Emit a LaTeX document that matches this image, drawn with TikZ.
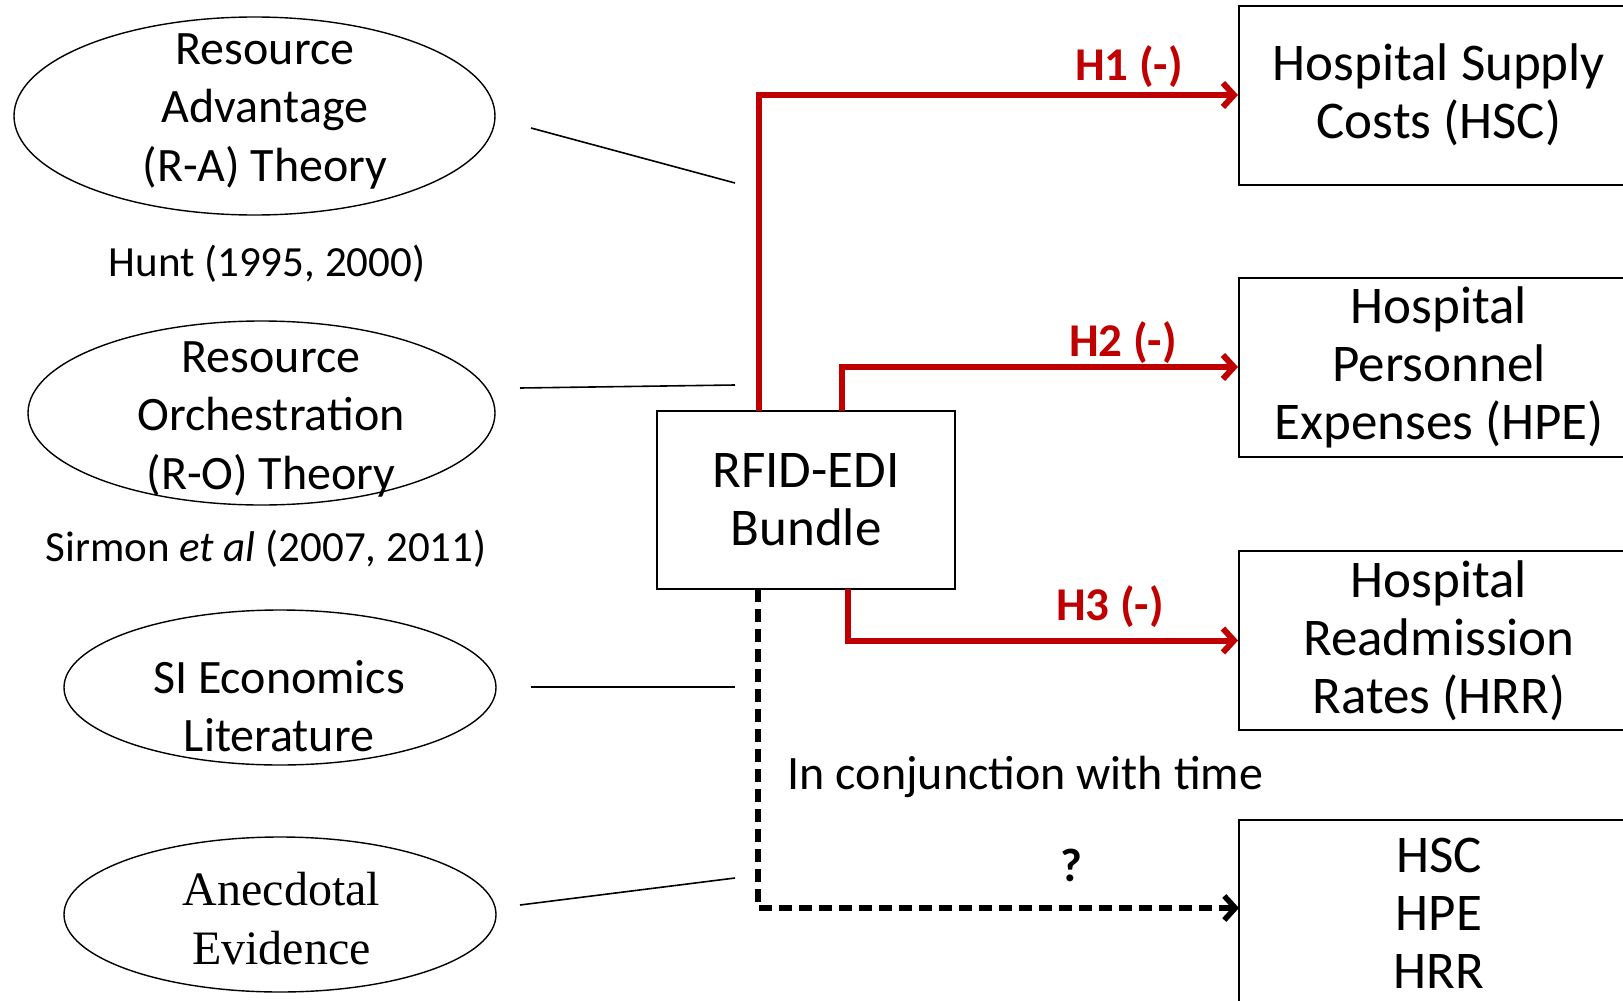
\documentclass[tikz,border=0pt]{standalone}
\usepackage{fontspec}
\setmainfont{Carlito}
\newfontfamily\timesfont{Liberation Serif}
\usetikzlibrary{shapes.geometric,arrows.meta}
\definecolor{hred}{RGB}{192,0,0}
\begin{document}
\begin{tikzpicture}[x=1pt,y=-1pt,
  theory/.style={ellipse, draw, line width=1.4pt, inner sep=0pt},
  theorytext/.style={font=\fontsize{48}{58.5}\selectfont, align=center, inner sep=0pt},
  reftext/.style={font=\fontsize{43}{50}\selectfont, inner sep=0pt},
  outcome/.style={rectangle, draw, line width=2pt, minimum width=400pt, minimum height=179pt, inner sep=0pt,
    font=\fontsize{53}{58}\selectfont, align=center},
  hyp/.style={font=\bfseries\fontsize{47}{52}\selectfont, text=hred, inner sep=0pt},
  link/.style={line width=1.6pt},
  redarrow/.style={draw=hred, line width=6pt, -{Straight Barb[length=11pt,width=24pt]}},
  timearrow/.style={line width=5.5pt, dash pattern=on 13pt off 7pt, -{Straight Barb[length=11pt,width=24pt]}}
]
\clip (0,0) rectangle (1623,1001);
\useasboundingbox (0,0) rectangle (1623,1001);

% theory ellipses
\node[theory, minimum width=481pt, minimum height=198pt] (ra) at (254.5,116) {};
\node[theorytext] (ratext) at (265,111) {Resource\\Advantage\\(R-A) Theory};
\node[reftext] (hunt) at (267,264) {Hunt (1995, 2000)};

\node[theory, minimum width=467pt, minimum height=184pt] (ro) at (261.5,413) {};
\node[theorytext] (rotext) at (271,419) {Resource\\Orchestration\\(R-O) Theory};
\node[reftext] (sirmon) at (266,549) {Sirmon \textit{et al} (2007, 2011)};

\node[theory, minimum width=432pt, minimum height=155pt] (si) at (280,687.5) {};
\node[theorytext] (sitext) at (279,706) {SI Economics\\Literature};

\node[theory, minimum width=432pt, minimum height=155pt] (ae) at (280,914.5) {};
\node[theorytext, font=\timesfont\fontsize{48}{59}\selectfont] (aetext) at (281.5,919) {Anecdotal\\Evidence};

% free ends of the support lines
\coordinate (l1a) at (531,128);  \coordinate (l1b) at (735,183);
\coordinate (l2a) at (520,388);  \coordinate (l2b) at (735,385);
\coordinate (l3a) at (531,687);  \coordinate (l3b) at (735,687);
\coordinate (l4a) at (520,905);  \coordinate (l4b) at (735,878);
\draw[link] (l1a) -- (l1b);
\draw[link] (l2a) -- (l2b);
\draw[link] (l3a) -- (l3b);
\draw[link] (l4a) -- (l4b);

% central construct
\node[outcome, minimum width=298pt, minimum height=178pt] (rfid) at (806,500) {RFID-EDI\\Bundle};

% outcomes
\node[outcome] (hsc) at (1439,95) {Hospital Supply\\Costs (HSC)};
\node[outcome] (hpe) at (1439,367) {Hospital\\Personnel\\Expenses (HPE)};
\node[outcome] (hrr) at (1439,640.5) {Hospital\\Readmission\\Rates (HRR)};
\node[outcome, minimum height=186pt] (all) at (1439,913) {HSC\\HPE\\HRR};

% hypothesised paths
\coordinate (s1) at (759,411);
\coordinate (s2) at (842,411);
\coordinate (s3) at (848,589);
\coordinate (s4) at (758,589);
\coordinate (e4) at (1239,908);
\draw[redarrow] (s1) |- (hsc.west);
\draw[redarrow] (s2) |- (hpe.west);
\draw[redarrow] (s3) |- (hrr.west);
\draw[timearrow] (s4) |- (e4);

\node[hyp] (h1) at (1129,67) {H1 (-)};
\node[hyp] (h2) at (1123,343) {H2 (-)};
\node[hyp] (h3) at (1110,607) {H3 (-)};
\node[hyp, text=black] (q) at (1071,865) {?};
\node[font=\fontsize{48}{54}\selectfont, inner sep=0pt] (time) at (1025.5,777) {In conjunction with time};
\end{tikzpicture}
\end{document}
